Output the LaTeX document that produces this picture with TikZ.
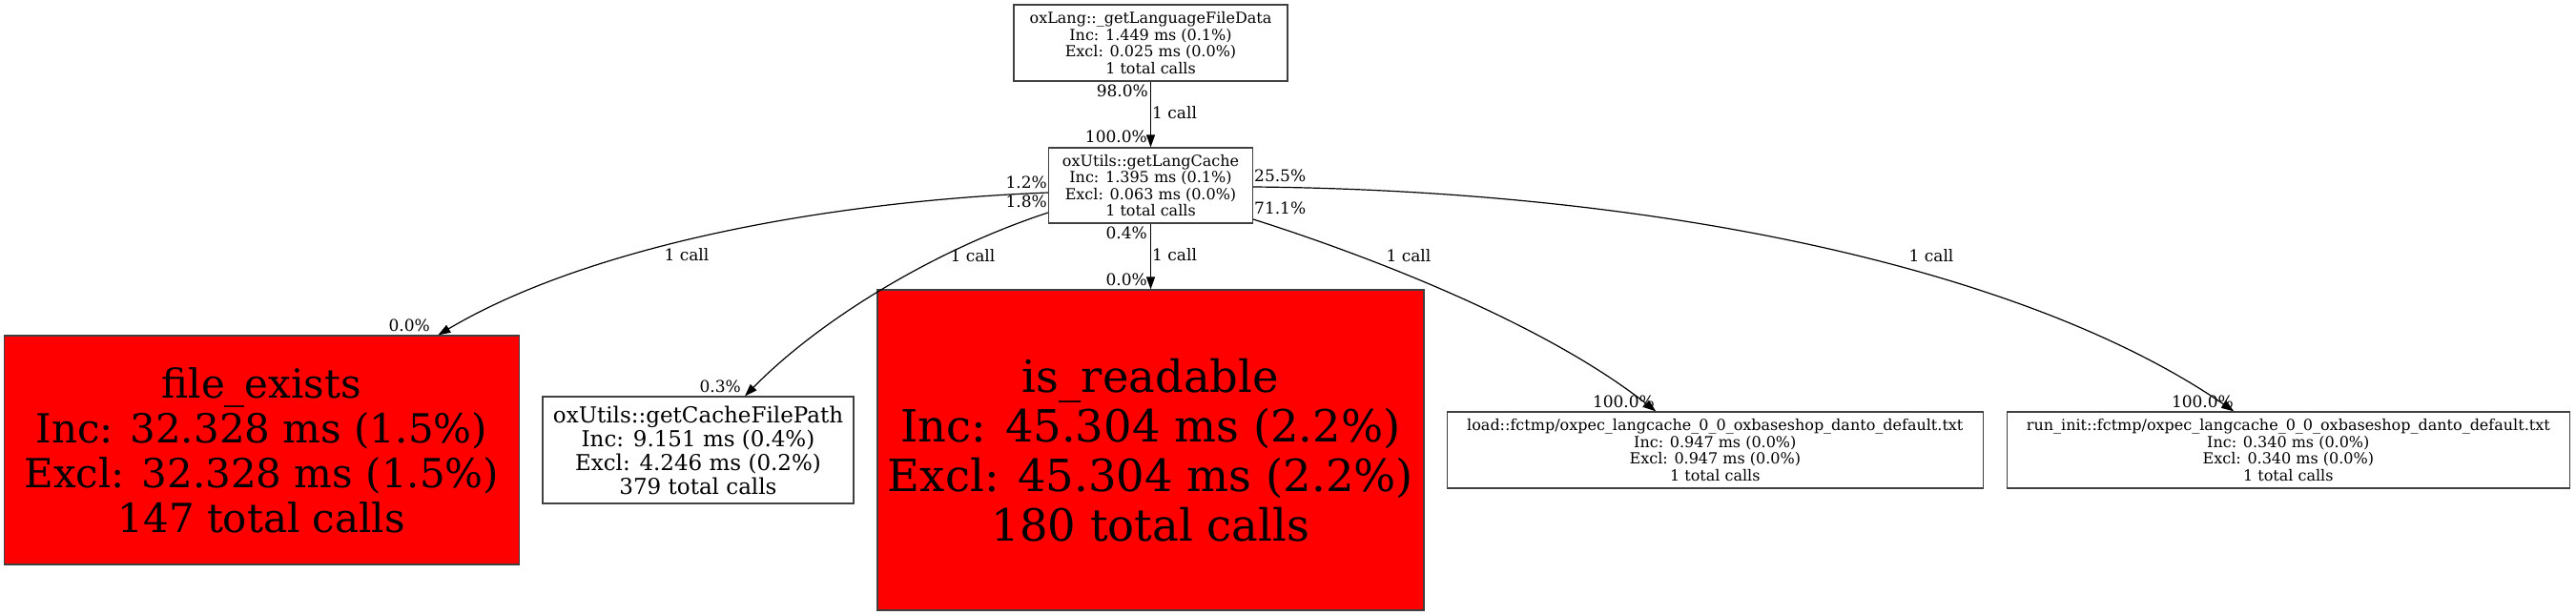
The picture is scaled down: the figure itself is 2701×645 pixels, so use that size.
\documentclass[tikz,border=0pt]{standalone}
\usepackage{fontspec}
\setmainfont{DejaVu Serif}
\usetikzlibrary{arrows.meta}
\usetikzlibrary{positioning}

\begin{document}
\begin{tikzpicture}[x=1pt,y=-1pt,
  fn/.style={draw=black!75,line width=1.2pt,rectangle,inner sep=0pt,align=center,font=\fontsize{16}{17.5}\selectfont},
  hot/.style={fn,fill=red},
  pct/.style={inner sep=0pt,font=\fontsize{17}{20}\selectfont},
  call/.style={-{Triangle[length=13pt,width=9pt]},line width=1.2pt}]
  \useasboundingbox (0,0) rectangle (2701,645);

  \node[fn,minimum width=287pt,minimum height=80pt] (1) at (1206.5,45)
    {oxLang::\_getLanguageFileData\\Inc: 1.449 ms (0.1\%)\\Excl: 0.025 ms (0.0\%)\\1 total calls};
  \node[fn,minimum width=214pt,minimum height=79pt] (2) at (1206.5,194.5)
    {oxUtils::getLangCache\\Inc: 1.395 ms (0.1\%)\\Excl: 0.063 ms (0.0\%)\\1 total calls};

  \node[hot,minimum width=540pt,minimum height=240pt,font=\fontsize{42}{47}\selectfont] (3) at (274.3,472)
    {file\_exists\\Inc: 32.328 ms (1.5\%)\\Excl: 32.328 ms (1.5\%)\\147 total calls};
  \node[fn,minimum width=326pt,minimum height=112pt,font=\fontsize{23}{25}\selectfont] (4) at (732,472)
    {oxUtils::getCacheFilePath\\Inc: 9.151 ms (0.4\%)\\Excl: 4.246 ms (0.2\%)\\379 total calls};
  \node[hot,minimum width=573pt,minimum height=336pt,font=\fontsize{46.5}{52}\selectfont] (5) at (1206.5,472)
    {is\_readable\\Inc: 45.304 ms (2.2\%)\\Excl: 45.304 ms (2.2\%)\\180 total calls};
  \node[fn,minimum width=562pt,minimum height=80pt] (6) at (1798.3,472)
    {load::fctmp/oxpec\_langcache\_0\_0\_oxbaseshop\_danto\_default.txt\\Inc: 0.947 ms (0.0\%)\\Excl: 0.947 ms (0.0\%)\\1 total calls};
  \node[fn,minimum width=590pt,minimum height=80pt] (7) at (2399.3,472)
    {run\_init::fctmp/oxpec\_langcache\_0\_0\_oxbaseshop\_danto\_default.txt\\Inc: 0.340 ms (0.0\%)\\Excl: 0.340 ms (0.0\%)\\1 total calls};

  % percentages at both ends, call counts in between
  \node[pct,anchor=east] (12t) at (1204,95) {98.0\%};
  \node[pct,anchor=west] (12c) at (1208,118) {1 call};
  \node[pct,anchor=east] (12h) at (1203,143) {100.0\%};

  \node[pct,anchor=east] (23t) at (1098,191) {1.2\%};
  \node[pct] (23c) at (720,267) {1 call};
  \node[pct,anchor=east] (23h) at (451,341) {0.0\%};

  \node[pct,anchor=east] (24t) at (1098,211) {1.8\%};
  \node[pct] (24c) at (1020,268) {1 call};
  \node[pct,anchor=east] (24h) at (777,405) {0.3\%};

  \node[pct,anchor=east] (25t) at (1203,244) {0.4\%};
  \node[pct,anchor=west] (25c) at (1208,267) {1 call};
  \node[pct,anchor=east] (25h) at (1203,293) {0.0\%};

  \node[pct,anchor=west] (26t) at (1315,218) {71.1\%};
  \node[pct] (26c) at (1477,268) {1 call};
  \node[pct,anchor=east] (26h) at (1735,421) {100.0\%};

  \node[pct,anchor=west] (27t) at (1315,184) {25.5\%};
  \node[pct] (27c) at (2025,268) {1 call};
  \node[pct,anchor=east] (27h) at (2342,421) {100.0\%};

  \draw[call] (1) -- (2);
  \draw[call] (2) -- (5);
  \draw[call] ([yshift=-7.5pt]2.west) .. controls (850,212) and (610,262) .. ([xshift=185pt]3.north);
  \draw[call] ([yshift=-28.5pt]2.west) .. controls (980,262) and (860,335) .. ([xshift=49pt]4.north);
  \draw[call] ([yshift=-35.5pt]2.east) .. controls (1440,270) and (1620,340) .. ([xshift=-62pt]6.north);
  \draw[call] ([yshift=-1.5pt]2.east) .. controls (1750,200) and (2130,285) .. ([xshift=-57pt]7.north);
\end{tikzpicture}
\end{document}
